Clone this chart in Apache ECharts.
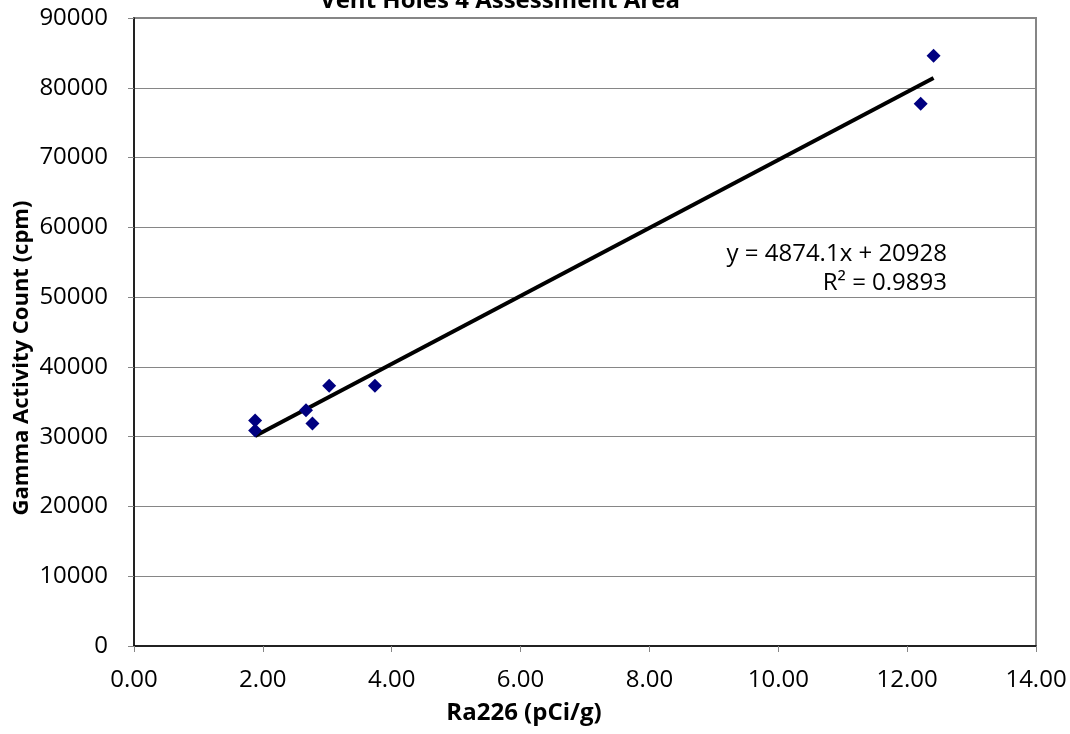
<!DOCTYPE html>
<html><head><meta charset="utf-8">
<script src="https://cdn.jsdelivr.net/npm/echarts@6/dist/echarts.min.js"></script>
<style>html,body{margin:0;padding:0;background:#fff}#c{width:1070px;height:734px}</style>
</head><body><div id="c"></div>
<script>
const ra226 = [1.88, 1.88, 2.67, 2.77, 3.03, 3.74, 12.21, 12.41];
const gamma = [32300, 30900, 33800, 31900, 37300, 37300, 77700, 84600];
const slope = 4874.1, intercept = 20928;
const titleText = 'Vent Holes 4 Assessment Area';
const xTitle = 'Ra226 (pCi/g)';
const yTitle = 'Gamma Activity Count (cpm)';
const eqText = 'y = 4874.1x + 20928';
const r2Text = 'R² = 0.9893';

const pts = ra226.map((x, i) => [x, gamma[i]]);
const xMin = Math.min(...ra226), xMax = Math.max(...ra226);
const trend = [[xMin, slope * xMin + intercept], [xMax, slope * xMax + intercept]];
const F = '"Open Sans", "Liberation Sans", sans-serif';

const chart = echarts.init(document.getElementById('c'), null, {renderer: 'canvas'});
chart.setOption({
  animation: false,
  textStyle: {fontFamily: F},
  grid: {left: 134, right: 34, top: 18, bottom: 88, containLabel: false,
    outerBoundsMode: 'none',
    show: true, borderColor: '#868686', borderWidth: 2},
  xAxis: {type: 'value', min: 0, max: 14, interval: 2,
    axisLine: {show: true, lineStyle: {color: '#000', width: 1.5}},
    axisTick: {show: true, length: 6, lineStyle: {color: '#868686'}},
    axisLabel: {fontFamily: F, fontSize: 24, color: '#000', margin: 22,
      formatter: v => v.toFixed(2)},
    splitLine: {show: false}},
  yAxis: {type: 'value', min: 0, max: 90000, interval: 10000,
    axisLine: {show: true, lineStyle: {color: '#000', width: 1.5}},
    axisTick: {show: true, length: 6, lineStyle: {color: '#868686'}},
    axisLabel: {fontFamily: F, fontSize: 24, color: '#000', margin: 26,
      formatter: v => String(v)},
    splitLine: {show: true, lineStyle: {color: '#868686', width: 1}}},
  series: [
    {type: 'line', data: trend, symbol: 'none', lineStyle: {color: '#000', width: 4},
     z: 3, silent: true},
    {type: 'scatter', data: pts, symbol: 'diamond', symbolSize: 14,
     itemStyle: {color: '#000080', opacity: 1}, z: 4}
  ],
  graphic: [
    {type: 'text', x: 500, y: 1,
     style: {text: titleText, font: 'bold 24px ' + F, fill: '#000', align: 'center', verticalAlign: 'middle'}},
    {type: 'text', x: 524, y: 713,
     style: {text: xTitle, font: 'bold 24px ' + F, fill: '#000', align: 'center', verticalAlign: 'middle'}},
    {type: 'text', x: 22, y: 358, rotation: Math.PI / 2,
     style: {text: yTitle, font: 'bold 22px ' + F, fill: '#000', align: 'center', verticalAlign: 'middle'}},
    {type: 'text', x: 947, y: 254,
     style: {text: eqText, font: '24px ' + F, fill: '#000', align: 'right', verticalAlign: 'middle'}},
    {type: 'text', x: 947, y: 283,
     style: {text: r2Text, font: '24px ' + F, fill: '#000', align: 'right', verticalAlign: 'middle'}}
  ]
});
</script></body></html>
